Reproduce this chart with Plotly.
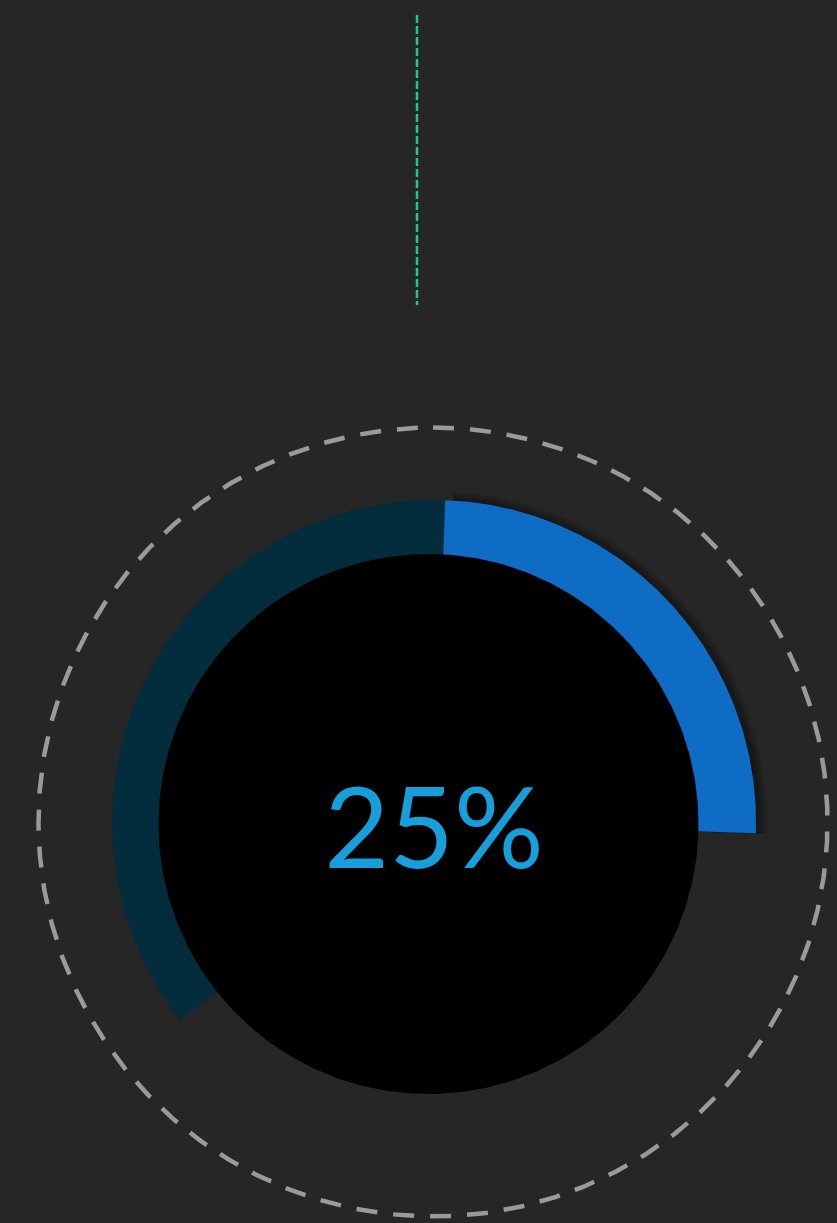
import numpy as np
import plotly.graph_objects as go

# ---- data ----
value_pct = [25]
value_label = ["25%"]
gauge_start_deg = [2]          # compass degrees (clockwise from top) where value arc starts
track_start_deg = [-128]       # compass degrees where the background track starts

# ---- geometry / style ----
W, H = 837, 1223
BG = "#262626"
ring_cx, ring_cy = 434, 822
r_out, r_in = 322, 255
disc_cx, disc_cy, disc_r = 428.5, 824, 270
dash_cx, dash_cy, dash_r = 433, 822, 394.5


def arc_poly(cx, cy, r0, r1, a0, a1, n=200):
    a = np.radians(np.linspace(a0, a1, n))
    xo = cx + r1 * np.sin(a)
    yo = cy - r1 * np.cos(a)
    xi = cx + r0 * np.sin(a[::-1])
    yi = cy - r0 * np.cos(a[::-1])
    return np.concatenate([xo, xi, xo[:1]]), np.concatenate([yo, yi, yo[:1]])


def circle_pts(cx, cy, r, n=400, start=0):
    a = np.radians(np.linspace(start, start + 360, n))
    return cx + r * np.sin(a), cy - r * np.cos(a)


fig = go.Figure()

# dashed outer circle
x, y = circle_pts(dash_cx, dash_cy, dash_r, 720)
fig.add_trace(go.Scatter(x=x, y=y, mode="lines", hoverinfo="skip",
                         line=dict(color="#9a9a9a", width=4.5, dash="21px,16px")))

# green dashed vertical line
fig.add_trace(go.Scatter(x=[417, 417], y=[15, 305], mode="lines", hoverinfo="skip",
                         line=dict(color="#19c99b", width=2.5, dash="8px,3px")))

v_end = gauge_start_deg[0] + value_pct[0] / 100 * 360

# track
x, y = arc_poly(ring_cx, ring_cy, r_in, r_out, track_start_deg[0], v_end)
fig.add_trace(go.Scatter(x=x, y=y, mode="lines", fill="toself", fillcolor="#032d3c",
                         line=dict(width=0), hoverinfo="skip"))

# shadow of value arc
for k in range(1, 9):
    x, y = arc_poly(ring_cx + 2, ring_cy + 0.5, r_in, r_out + k * 1.2,
                    gauge_start_deg[0] + 1, v_end)
    fig.add_trace(go.Scatter(x=x, y=y, mode="lines", fill="toself",
                             fillcolor="rgba(0,0,0,0.04)",
                             line=dict(width=0), hoverinfo="skip"))

# value arc
x, y = arc_poly(ring_cx, ring_cy, r_in, r_out, gauge_start_deg[0], v_end)
fig.add_trace(go.Scatter(x=x, y=y, mode="lines", fill="toself", fillcolor="#0f6cc4",
                         line=dict(width=0), hoverinfo="skip"))

# black inner disc
x, y = circle_pts(disc_cx, disc_cy, disc_r, 400)
fig.add_trace(go.Scatter(x=x, y=y, mode="lines", fill="toself", fillcolor="#000000",
                         line=dict(width=0), hoverinfo="skip"))

# center label
fig.add_trace(go.Scatter(x=[434], y=[840], mode="text", text=value_label,
                         textposition="middle center", hoverinfo="skip",
                         textfont=dict(family="Lato", size=112, color="#169fdb", weight=400)))

fig.update_layout(
    width=W, height=H, margin=dict(l=0, r=0, t=0, b=0),
    paper_bgcolor=BG, plot_bgcolor=BG, showlegend=False,
    xaxis=dict(range=[0, W], visible=False, fixedrange=True),
    yaxis=dict(range=[H, 0], visible=False, fixedrange=True),
)

fig.write_html("out.html", config={"displayModeBar": False})
